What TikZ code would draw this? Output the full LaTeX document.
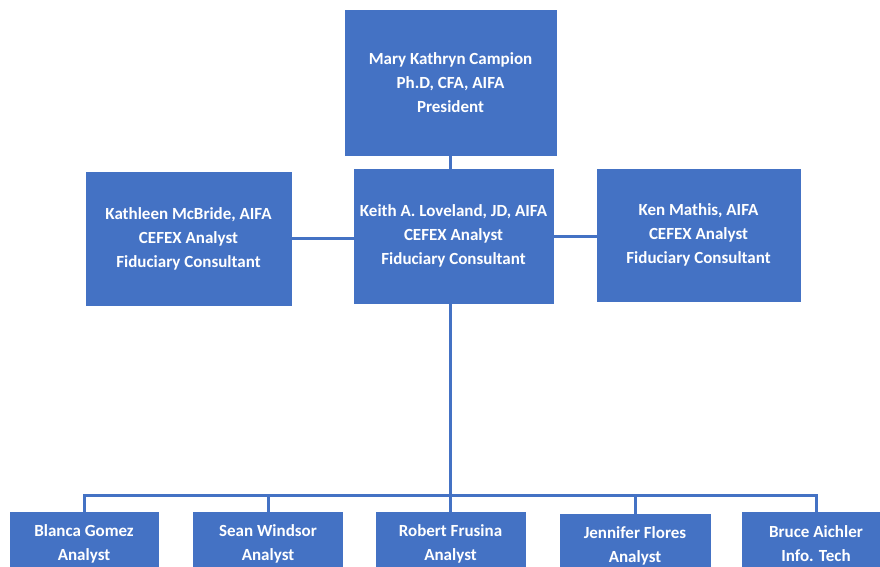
\documentclass[tikz,border=0pt]{standalone}
\usepackage{fontspec}
\setmainfont{Carlito}
\usepackage{tikz}
\usetikzlibrary{calc}
\definecolor{boxblue}{HTML}{4472C4}

\begin{document}
\begin{tikzpicture}[x=1pt,y=-1pt]

\tikzstyle{person}=[draw=boxblue,fill=boxblue,text=white,align=center,inner sep=0pt,outer sep=0pt,font=\fontsize{17}{24}\selectfont\bfseries]
\tikzstyle{link}=[draw=boxblue,line width=3pt]

\clip (0,0) rectangle (880,567);
\fill[white] (0,0) rectangle (880,567);

% TOP
\node [person,minimum width=211,minimum height=145] (pres) at (450.5,82.5) {Mary Kathryn Campion\\Ph.D, CFA, AIFA\\President};

% MIDDLE ROW
\node [person,minimum width=199,minimum height=134] (keith) at (453.5,236) {Keith A. Loveland, JD, AIFA\\CEFEX Analyst\\Fiduciary Consultant};
\node [person,minimum width=205,minimum height=133] (kath) at (188.5,238.5) {Kathleen McBride, AIFA\\CEFEX Analyst\\Fiduciary Consultant};
\node [person,minimum width=203,minimum height=132] (ken) at (698.5,235) {Ken Mathis, AIFA\\CEFEX Analyst\\Fiduciary Consultant};

% BOTTOM ROW
\node [person,minimum width=148,minimum height=64] (blanca) at (84,544) {Blanca Gomez\\Analyst};
\node [person,minimum width=149,minimum height=64] (sean) at (268,544) {Sean Windsor\\Analyst};
\node [person,minimum width=149,minimum height=64] (robert) at (450.5,544) {Robert Frusina\\Analyst};
\node [person,minimum width=150,minimum height=64,yshift=-2] (jennifer) at (635,544) {Jennifer Flores\\Analyst};
\node [person,minimum width=148,minimum height=64] (bruce) at (816,544) {Bruce Aichler\\Info. Tech};

% LINKS
\coordinate (bus) at (450,495);
\draw [link] (pres.south -| bus) -- (keith.north -| bus);
\draw [link] (kath.east) -- (kath.east -| keith.west);
\draw [link] (keith.east) -- (keith.east -| ken.west);
\draw [link] (keith.south -| bus) -- (bus);
\foreach \kid in {blanca,sean,robert,jennifer,bruce}
  \draw [link] (bus) -| (\kid.north);

\end{tikzpicture}
\end{document}
